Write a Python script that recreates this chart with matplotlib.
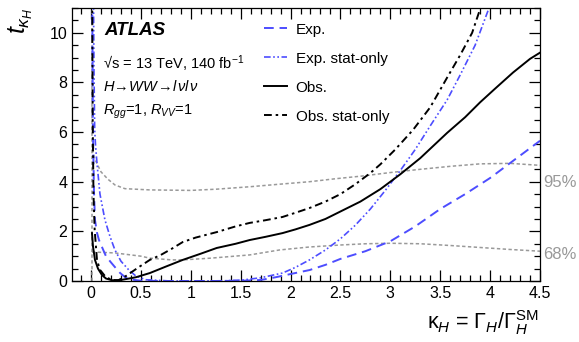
import matplotlib
matplotlib.use("Agg")
import matplotlib.pyplot as plt
from matplotlib.ticker import MultipleLocator
from matplotlib.lines import Line2D

# === Einstellungen ===
plt.rcParams["font.family"] = ["Liberation Sans", "DejaVu Sans"]
plt.rcParams["mathtext.fontset"] = "custom"
plt.rcParams["mathtext.rm"] = "Liberation Sans"
plt.rcParams["mathtext.it"] = "Liberation Sans:italic"
plt.rcParams["mathtext.bf"] = "Liberation Sans:bold"

BLUE = "#4d4dff"
GRAY = "#999999"

# === Daten ===
obs_k = [0.01, 0.02, 0.04, 0.07, 0.11, 0.15, 0.21, 0.3, 0.45, 0.59, 0.75, 0.92, 1.1, 1.26, 1.45,
         1.59, 1.75, 1.92, 2.05, 2.19, 2.35, 2.5, 2.7, 2.9, 3.1, 3.3, 3.57, 3.75, 3.9, 4.05, 4.23, 4.4, 4.5]
obs_t = [1.93, 1.4, 0.85, 0.5, 0.24, 0.1, 0.03, 0.04, 0.15, 0.32, 0.58, 0.85, 1.1, 1.33, 1.5,
         1.65, 1.78, 1.93, 2.08, 2.26, 2.5, 2.8, 3.2, 3.7, 4.3, 4.95, 5.97, 6.6, 7.2, 7.75, 8.4, 8.95, 9.2]

obs_stat_k = [0.012, 0.017, 0.025, 0.037, 0.06, 0.09, 0.14, 0.2, 0.27, 0.35, 0.48, 0.59, 0.7, 0.81, 0.92,
              1.05, 1.26, 1.45, 1.59, 1.75, 1.92, 2.05, 2.19, 2.35, 2.5, 2.65, 2.8, 2.9, 3.05, 3.23,
              3.4, 3.57, 3.7, 3.82, 3.92]
obs_stat_t = [11.5, 6.5, 3.5, 2.05, 0.85, 0.45, 0.2, 0.05, 0.02, 0.2, 0.56, 0.85, 1.05, 1.3, 1.57,
              1.75, 1.97, 2.2, 2.34, 2.45, 2.58, 2.75, 2.94, 3.2, 3.5, 3.9, 4.35, 4.7, 5.3, 6.1,
              7.0, 8.2, 9.1, 10.0, 11.2]

exp_k = [0.012, 0.02, 0.03, 0.04, 0.06, 0.08, 0.11, 0.15, 0.2, 0.24, 0.29, 0.34, 0.4, 0.5, 0.7,
         1.0, 1.3, 1.5, 1.7, 1.85, 2.0, 2.19, 2.35, 2.5, 2.75, 3.0, 3.25, 3.5, 3.75, 4.0, 4.25, 4.5]
exp_t = [11.5, 6.0, 3.6, 2.46, 1.95, 1.65, 1.37, 1.0, 0.75, 0.56, 0.33, 0.16, 0.06, 0.01, 0.0,
         0.0, 0.0, 0.01, 0.04, 0.15, 0.28, 0.44, 0.65, 0.89, 1.2, 1.6, 2.2, 2.9, 3.5, 4.15, 4.9, 5.65]

exp_stat_k = [0.025, 0.03, 0.037, 0.045, 0.06, 0.09, 0.14, 0.19, 0.24, 0.3, 0.38, 0.45, 0.55, 0.8,
              1.1, 1.35, 1.52, 1.7, 1.92, 2.05, 2.19, 2.35, 2.5, 2.65, 2.8, 2.95, 3.1, 3.25, 3.4,
              3.57, 3.7, 3.85, 3.98]
exp_stat_t = [11.5, 8.5, 6.1, 5.5, 4.75, 3.5, 2.46, 1.8, 1.25, 0.8, 0.44, 0.2, 0.05, 0.0,
              0.0, 0.01, 0.04, 0.13, 0.32, 0.55, 0.85, 1.25, 1.7, 2.25, 2.9, 3.65, 4.45, 5.3, 6.25,
              7.3, 8.3, 9.5, 10.9]

cl95_k = [0.01, 0.04, 0.1, 0.17, 0.24, 0.34, 0.59, 1.0, 1.26, 1.6, 1.89, 2.19, 2.45, 2.72, 3.0,
          3.3, 3.6, 3.9, 4.2, 4.5]
cl95_t = [5.3, 4.9, 4.4, 4.1, 3.87, 3.72, 3.67, 3.65, 3.7, 3.8, 3.9, 4.0, 4.12, 4.23, 4.37,
          4.5, 4.62, 4.72, 4.74, 4.66]

cl68_k = [0.01, 0.24, 0.5, 0.59, 0.81, 0.92, 1.2, 1.59, 1.89, 2.19, 2.5, 2.75, 3.0, 3.3, 3.6,
          3.9, 4.2, 4.5]
cl68_t = [1.17, 1.13, 1.0, 0.92, 0.85, 0.85, 0.92, 1.05, 1.25, 1.37, 1.45, 1.5, 1.52, 1.5, 1.43,
          1.35, 1.27, 1.2]

# === Diagramm ===
fig = plt.figure(figsize=(5.79, 3.42), dpi=100)
ax = fig.add_axes([0.1244, 0.1784, 0.8082, 0.7982])

gray_ls = (0, (2.2, 1.6))
ax.axvline(0.01, color=GRAY, lw=1.1, ls=gray_ls)
ax.plot(cl95_k, cl95_t, color=GRAY, lw=1.1, ls=gray_ls)
ax.plot(cl68_k, cl68_t, color=GRAY, lw=1.1, ls=gray_ls)

exp_ls = (0, (5, 3))
exp_stat_ls = (0, (4, 1.5, 1, 1.5, 1, 1.5))
obs_stat_ls = (0, (4, 2, 1.3, 2))

ax.plot(exp_k, exp_t, color=BLUE, lw=1.4, ls=exp_ls)
ax.plot(exp_stat_k, exp_stat_t, color=BLUE, lw=1.2, ls=exp_stat_ls)
ax.plot(obs_k, obs_t, color="black", lw=1.4)
ax.plot(obs_stat_k, obs_stat_t, color="black", lw=1.4, ls=obs_stat_ls)

ax.set_xlim(-0.19, 4.5)
ax.set_ylim(0, 11)
ax.xaxis.set_major_locator(MultipleLocator(0.5))
ax.xaxis.set_minor_locator(MultipleLocator(0.1))
ax.yaxis.set_major_locator(MultipleLocator(2))
ax.yaxis.set_minor_locator(MultipleLocator(0.5))
ax.tick_params(which="both", direction="in", top=True, right=True, labelsize=11.5)
ax.tick_params(which="major", length=8, width=0.9)
ax.tick_params(which="minor", length=4, width=0.9)
ax.set_xticks([0, 0.5, 1, 1.5, 2, 2.5, 3, 3.5, 4, 4.5])
ax.set_xticklabels(["0", "0.5", "1", "1.5", "2", "2.5", "3", "3.5", "4", "4.5"])
for s in ax.spines.values():
    s.set_linewidth(0.9)

# Texte
ax.text(0.069, 0.919, "ATLAS", transform=ax.transAxes, fontsize=13.5, fontweight="bold",
        style="italic", va="center", ha="left")
ax.text(0.066, 0.797, "\u221as = 13 TeV, 140 fb$^{-1}$", transform=ax.transAxes, fontsize=10.5,
        va="center", ha="left")
ax.text(0.066, 0.711, r"$H\!\rightarrow\!WW\!\rightarrow\!l\,\nu l\,\nu$", transform=ax.transAxes,
        fontsize=10.5, va="center", ha="left")
ax.text(0.066, 0.618, r"$R_{gg}$=1, $R_{VV}$=1", transform=ax.transAxes, fontsize=10.5,
        va="center", ha="left")

ax.text(1.006, 3.95, "95%", transform=ax.get_yaxis_transform(), color=GRAY, fontsize=12,
        va="center", ha="left")
ax.text(1.006, 1.08, "68%", transform=ax.get_yaxis_transform(), color=GRAY, fontsize=12,
        va="center", ha="left")

handles = [
    Line2D([], [], color=BLUE, lw=1.4, ls=exp_ls),
    Line2D([], [], color=BLUE, lw=1.2, ls=exp_stat_ls),
    Line2D([], [], color="black", lw=1.4),
    Line2D([], [], color="black", lw=1.4, ls=obs_stat_ls),
]
labels = ["Exp.", "Exp. stat-only", "Obs.", "Obs. stat-only"]
ax.legend(handles, labels, loc="upper left", bbox_to_anchor=(0.388, 0.985), frameon=False,
          fontsize=11, handlelength=1.5, handletextpad=0.55, labelspacing=0.98, borderpad=0.2)

fig.text(0.036, 0.977, r"$t_{\kappa_H}$", rotation=90, fontsize=18, va="top", ha="center")
fig.text(0.931, 0.058, r"$\mathrm{\kappa}_H$ = $\Gamma_H/\Gamma_H^{\mathrm{SM}}$", fontsize=15.5,
         va="center", ha="right")

plt.savefig("out.png", dpi=100)
plt.close()
